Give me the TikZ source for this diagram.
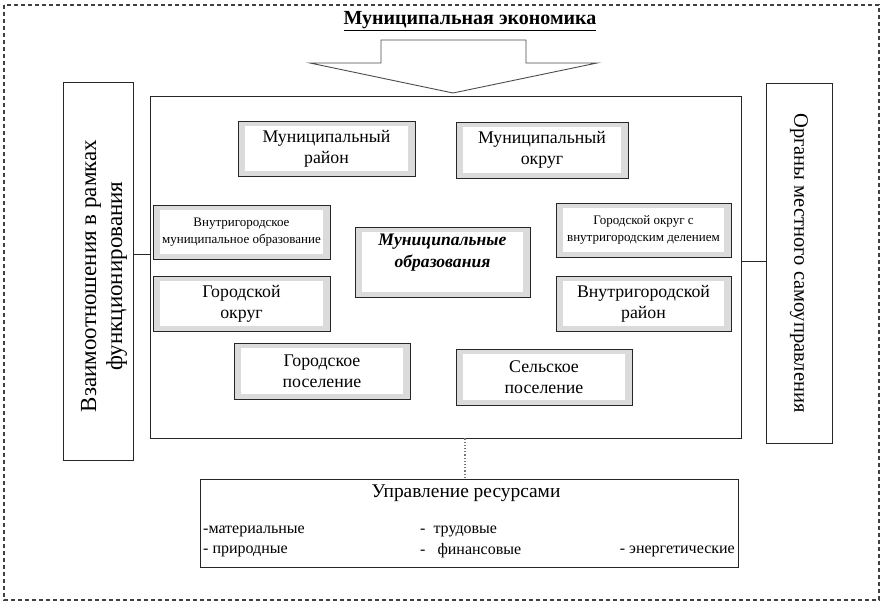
\documentclass[tikz,border=0pt]{standalone}
\usepackage{fontspec}
\setmainfont{Liberation Serif}
\usetikzlibrary{calc}
\begin{document}
\begin{tikzpicture}[x=1pt,y=-1pt,
  mo/.style={draw=black!85, line width=1pt, fill=black!14, inner sep=0pt, align=center,
    font=\fontsize{17.8}{21}\selectfont,
    path picture={\fill[white] ($(path picture bounding box.south west)+(7pt,5pt)$) rectangle ($(path picture bounding box.north east)+(-7pt,-5pt)$);}},
  small/.style={font=\fontsize{13}{17}\selectfont},
  frame/.style={draw=black!85, line width=0.9pt, inner sep=0pt},
  link/.style={draw=black!85, line width=0.8pt},
  item/.style={inner sep=0pt, font=\fontsize{16}{18}\selectfont}]
\useasboundingbox (0,0) rectangle (889,606);
% outer dashed border
\draw[black!75, dashed, line width=1.1pt, dash pattern=on 4pt off 3pt] (4,5) rectangle (879,600);
% title
\node[inner sep=0pt, font=\bfseries\fontsize{20}{22}\selectfont] (title) at (470,21) {\underline{Муниципальная экономика}};
% big arrow
\draw[black!70, line width=0.9pt, fill=white] (381,40) -- (526,40) -- (526,63) -- (597,63) -- (453,93) -- (310,63) -- (381,63) -- cycle;
% main frame
\node[frame, minimum width=591pt, minimum height=342pt] (main) at (445.5,267) {};
% side boxes
\node[frame, minimum width=70pt, minimum height=378pt] (left) at (98,271) {};
\node[rotate=90, align=center, font=\fontsize{23}{26}\selectfont] (lefttxt) at (104,276) {Взаимоотношения в рамках\\функционирования};
\node[frame, minimum width=66pt, minimum height=360pt] (right) at (799,263) {};
\node[rotate=-90, align=center, font=\fontsize{20.5}{22}\selectfont] (righttxt) at (right.center) {Органы местного самоуправления};
% municipal entity boxes
\node[mo, minimum width=177pt, minimum height=55pt] (mr) at (326.5,148.5) {Муниципальный\\район};
\node[mo, minimum width=172pt, minimum height=56pt] (mok) at (542,150) {Муниципальный\\округ};
\node[mo, small, minimum width=177pt, minimum height=54pt] (vmo) at (241.5,232) {Внутригородское\\муниципальное образование};
\node[mo, minimum width=175pt, minimum height=70pt] (center) at (442.5,262) {};
\node[inner sep=0pt, align=center, font=\bfseries\itshape\fontsize{17.6}{22}\selectfont] (centertxt) at (442.5,253) {Муниципальные\\образования};
\node[mo, small, minimum width=175pt, minimum height=54pt] (gokd) at (643.5,230) {Городской округ с\\внутригородским делением};
\node[mo, minimum width=177pt, minimum height=55pt] (go) at (241.5,303.5) {Городской\\округ};
\node[mo, minimum width=175pt, minimum height=55pt] (vgr) at (643.5,303.5) {Внутригородской\\район};
\node[mo, minimum width=176pt, minimum height=56pt] (gp) at (322,371) {Городское\\поселение};
\node[mo, minimum width=176pt, minimum height=56pt] (sp) at (544,377) {Сельское\\поселение};
% resources box
\node[frame, minimum width=538pt, minimum height=88pt] (res) at (469,523) {};
\node[inner sep=0pt, font=\fontsize{19.4}{22}\selectfont] (restitle) at (466,493) {Управление ресурсами};
\node[item, anchor=west] (r1) at (203,531) {-материальные};
\node[item, anchor=west] (r2) at (420,531) {-\ \ трудовые};
\node[item, anchor=west] (r3) at (203,551) {- природные};
\node[item, anchor=west] (r4) at (420,551) {-\ \ \ финансовые};
\node[item, anchor=east] (r5) at (735,551) {- энергетические};
% connectors
\coordinate (ly) at (0,254);
\coordinate (ry) at (0,261);
\coordinate (cx) at (465,0);
\draw[link] (left.east |- ly) -- (main.west |- ly);
\draw[link] (main.east |- ry) -- (right.west |- ry);
\draw[black!55, line width=1.2pt, dotted] (main.south -| cx) -- (res.north -| cx);
\end{tikzpicture}
\end{document}
